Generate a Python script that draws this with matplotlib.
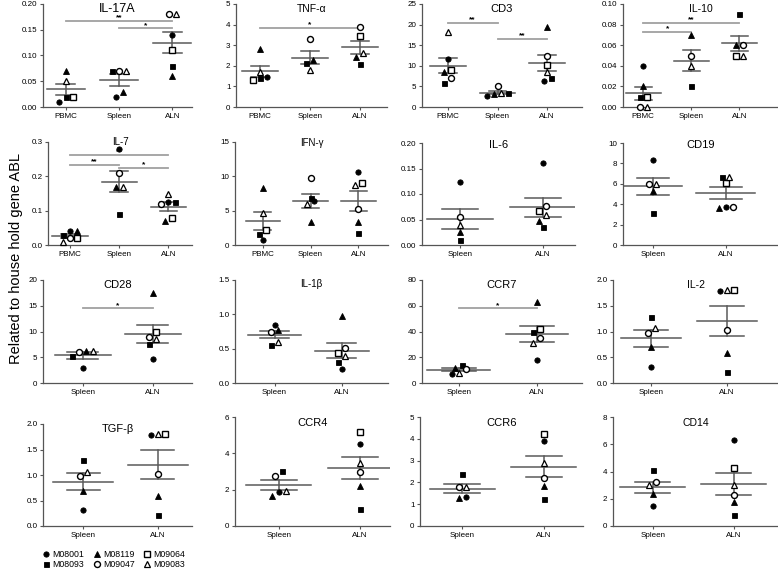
import numpy as np
import matplotlib
matplotlib.use('Agg')
import matplotlib.pyplot as plt
from matplotlib.lines import Line2D
from matplotlib.ticker import FormatStrFormatter, MultipleLocator

plt.rcParams['font.family'] = ['Liberation Sans', 'DejaVu Sans']

# ---------------- data ----------------
SUBJECTS = ['M08001', 'M08093', 'M08119', 'M09047', 'M09064', 'M09083']
# values in SUBJECTS order, None = missing
IL17A_PBMC = [0.01, 0.02, 0.07, None, 0.02, 0.05]
IL17A_SPLEEN = [0.02, 0.07, 0.03, 0.07, None, 0.07]
IL17A_ALN = [0.14, 0.08, 0.06, 0.18, 0.11, 0.18]

TNFA_PBMC = [1.45, 1.42, 2.8, None, 1.32, 1.7]
TNFA_SPLEEN = [None, 2.15, 2.3, 3.3, None, 1.8]
TNFA_ALN = [None, 2.1, 2.45, 3.87, 3.45, 2.6]

CD3_PBMC = [11.7, 5.8, 8.6, 7.0, 9.0, 18.3]
CD3_SPLEEN = [2.6, 3.5, 3.1, 5.0, None, 3.3]
CD3_ALN = [6.2, 7.0, 19.4, 12.4, 10.1, 8.6]

IL10_PBMC = [0.04, 0.01, 0.02, 0.0, 0.01, 0.0]
IL10_SPLEEN = [None, 0.02, 0.07, 0.05, None, 0.04]
IL10_ALN = [None, 0.09, 0.06, 0.06, 0.05, 0.05]

IL7_PBMC = [0.04, 0.03, 0.04, 0.02, 0.02, 0.01]
IL7_SPLEEN = [0.28, 0.09, 0.17, 0.21, None, 0.17]
IL7_ALN = [0.125, 0.125, 0.07, 0.12, 0.08, 0.15]

IFNG_PBMC = [0.7, 1.6, 8.3, None, 2.2, 4.6]
IFNG_SPLEEN = [6.4, 6.8, 3.4, 9.7, None, 5.9]
IFNG_ALN = [10.7, 1.7, 3.4, 5.3, 9.0, 8.7]

IL6_SPLEEN = [0.123, 0.01, 0.025, 0.055, None, 0.04]
IL6_ALN = [0.16, 0.035, 0.048, 0.076, 0.066, 0.058]

CD19_SPLEEN = [8.3, 3.1, 5.3, 6.0, None, 6.0]
CD19_ALN = [3.75, 6.7, 3.6, 3.75, 6.1, 6.7]

CD28_SPLEEN = [3.0, 5.2, 6.2, 6.1, None, 6.2]
CD28_ALN = [4.6, 7.6, 17.5, 8.9, 10.0, 8.5]

IL1B_SPLEEN = [0.84, 0.56, 0.77, 0.74, None, 0.6]
IL1B_ALN = [0.2, 0.31, 0.98, 0.51, 0.43, 0.39]

CCR7_SPLEEN = [7, 14, 12, 11, None, 8]
CCR7_ALN = [18, 39.5, 63, 35, 42, 31]

IL2_SPLEEN = [0.31, 1.29, 0.69, 0.98, None, 1.06]
IL2_ALN = [1.79, 0.22, 0.58, 1.02, 1.81, 1.8]

TGFB_SPLEEN = [0.31, 1.29, 0.69, 0.98, None, 1.06]
TGFB_ALN = [1.79, 0.22, 0.58, 1.02, 1.81, 1.8]

CCR4_SPLEEN = [1.85, 3.05, 1.65, 2.75, None, 1.95]
CCR4_ALN = [4.5, 0.95, 2.2, 2.95, 5.15, 3.45]

CCR6_SPLEEN = [1.33, 2.38, 1.27, 1.78, None, 1.8]
CCR6_ALN = [3.88, 1.22, 1.83, 2.2, 4.22, 2.9]

CD14_SPLEEN = [1.5, 4.1, 2.35, 3.2, None, 3.0]
CD14_ALN = [6.3, 0.8, 1.75, 2.3, 4.25, 3.0]

G3 = ['PBMC', 'Spleen', 'ALN']
G2 = ['Spleen', 'ALN']

# title, group labels, group data, ymax, ystep, tick format, significance bars (i, j, y, text)
PANELS = [
    ('IL-17A', G3, [IL17A_PBMC, IL17A_SPLEEN, IL17A_ALN], 0.20, 0.05, '%.2f',
     [(0, 2, 0.167, '**'), (1, 2, 0.153, '*')]),
    ('TNF-α', G3, [TNFA_PBMC, TNFA_SPLEEN, TNFA_ALN], 5, 1, '%d', [(0, 2, 3.85, '*')]),
    ('CD3', G3, [CD3_PBMC, CD3_SPLEEN, CD3_ALN], 25, 5, '%d',
     [(0, 1, 20.4, '**'), (1, 2, 16.6, '**')]),
    ('IL-10', G3, [IL10_PBMC, IL10_SPLEEN, IL10_ALN], 0.10, 0.02, '%.2f',
     [(0, 2, 0.082, '**'), (0, 1, 0.073, '*')]),
    ('IL-7', G3, [IL7_PBMC, IL7_SPLEEN, IL7_ALN], 0.3, 0.1, '%.1f',
     [(0, 2, 0.262, '**'), (0, 1, 0.233, '**'), (1, 2, 0.224, '*')]),
    ('IFN-γ', G3, [IFNG_PBMC, IFNG_SPLEEN, IFNG_ALN], 15, 5, '%d', []),
    ('IL-6', G2, [IL6_SPLEEN, IL6_ALN], 0.20, 0.05, '%.2f', []),
    ('CD19', G2, [CD19_SPLEEN, CD19_ALN], 10, 2, '%d', []),
    ('CD28', G2, [CD28_SPLEEN, CD28_ALN], 20, 5, '%d', [(0, 1, 14.5, '*')]),
    ('IL-1β', G2, [IL1B_SPLEEN, IL1B_ALN], 1.5, 0.5, '%.1f', []),
    ('CCR7', G2, [CCR7_SPLEEN, CCR7_ALN], 80, 20, '%d', [(0, 1, 58, '*')]),
    ('IL-2', G2, [IL2_SPLEEN, IL2_ALN], 2.0, 0.5, '%.1f', []),
    ('TGF-β', G2, [TGFB_SPLEEN, TGFB_ALN], 2.0, 0.5, '%.1f', []),
    ('CCR4', G2, [CCR4_SPLEEN, CCR4_ALN], 6, 2, '%d', []),
    ('CCR6', G2, [CCR6_SPLEEN, CCR6_ALN], 5, 1, '%d', []),
    ('CD14', G2, [CD14_SPLEEN, CD14_ALN], 8, 2, '%d', []),
]

# ---------------- layout (pixels) ----------------
W, H = 778, 572
# left, top, right, bottom (px), xlim, title size, title y (axes fraction)
LAYOUT = {
    'IL-17A': (43, 4, 192, 107, -0.43, 2.37, 9, 0.955),
    'TNF-α': (236, 4, 387, 107, -0.48, 2.55, 7.5, 0.955),
    'CD3': (422, 4, 582, 107, -0.52, 2.70, 8, 0.955),
    'IL-10': (623, 4, 778, 107, -0.42, 2.80, 7.5, 0.955),
    'IL-7': (48, 142, 192, 245, -0.45, 2.48, 7, 1.0),
    'IFN-γ': (235, 142, 388, 245, -0.58, 2.62, 7, 0.99),
    'IL-6': (422, 143, 575, 245, -0.46, 1.39, 8, 0.98),
    'CD19': (623, 143, 778, 245, -0.41, 1.72, 8, 0.98),
    'CD28': (43, 280, 192, 383, -0.57, 1.56, 8, 0.955),
    'IL-1β': (235, 280, 388, 383, -0.59, 1.69, 7, 0.96),
    'CCR7': (422, 280, 582, 383, -0.47, 1.58, 8, 0.955),
    'IL-2': (613, 280, 778, 383, -0.50, 1.67, 7.5, 0.955),
    'TGF-β': (43, 424, 192, 526, -0.54, 1.46, 8, 0.955),
    'CCR4': (235, 417, 390, 526, -0.54, 1.37, 8, 0.945),
    'CCR6': (420, 417, 583, 526, -0.52, 1.48, 8, 0.945),
    'CD14': (613, 417, 778, 526, -0.49, 1.55, 7.5, 0.945),
}

STYLE = {
    'M08001': dict(marker='o', mfc='black', ms=3.8, mew=0.6),
    'M08093': dict(marker='s', mfc='black', ms=3.6, mew=0.6),
    'M08119': dict(marker='^', mfc='black', ms=4.0, mew=0.6),
    'M09047': dict(marker='o', mfc='white', ms=4.3, mew=1.0),
    'M09064': dict(marker='s', mfc='white', ms=4.3, mew=1.0),
    'M09083': dict(marker='^', mfc='white', ms=4.7, mew=0.9),
}

LINE_C = '#5a5a5a'
SIG_C = '#a0a0a0'
AX_C = '#555555'

fig = plt.figure(figsize=(W / 100, H / 100), dpi=100)


def swarm_offsets(ax, center, vals, ytol=6.0, step=7.0):
    """Return x positions (data units) spreading points with close y values."""
    tr = ax.transData
    px_per_x = tr.transform((1, 0))[0] - tr.transform((0, 0))[0]
    ypix = [tr.transform((center, v))[1] for v in vals]
    order = np.argsort(ypix, kind='stable')
    xs = [center] * len(vals)
    cluster = []
    start = None

    def flush(cl):
        n = len(cl)
        for k, idx in enumerate(cl):
            xs[idx] = center + (k - (n - 1) / 2) * step / px_per_x

    for idx in order:
        if start is None or ypix[idx] - start > ytol:
            if cluster:
                flush(cluster)
            cluster = [idx]
            start = ypix[idx]
        else:
            cluster.append(idx)
    if cluster:
        flush(cluster)
    return xs


for title, groups, gdata, ymax, ystep, fmt, sigs in PANELS:
    l, t, r, b, x0, x1, tfs, ty = LAYOUT[title]
    ax = fig.add_axes([l / W, 1 - b / H, (r - l) / W, (b - t) / H])
    ax.set_xlim(x0, x1)
    ax.set_ylim(0, ymax)
    ng = len(groups)
    mean_hw = 0.36 if ng == 3 else 0.40
    cap_hw = 0.18 if ng == 3 else 0.22

    for gi, vals in enumerate(gdata):
        subj = [s for s, v in zip(SUBJECTS, vals) if v is not None]
        v = np.array([v for v in vals if v is not None], dtype=float)
        m = v.mean()
        sem = v.std(ddof=1) / np.sqrt(len(v))
        ax.plot([gi - mean_hw, gi + mean_hw], [m, m], color=LINE_C, lw=1.1, zorder=2)
        ax.plot([gi, gi], [m - sem, m + sem], color=LINE_C, lw=1.1, zorder=2)
        for yy in (m - sem, m + sem):
            ax.plot([gi - cap_hw, gi + cap_hw], [yy, yy], color=LINE_C, lw=1.1, zorder=2)
        xs = swarm_offsets(ax, gi, v)
        for s, xx, yy in zip(subj, xs, v):
            ax.plot([xx], [yy], linestyle='none', mec='black', zorder=3,
                    clip_on=False, **STYLE[s])

    for i, j, yb, txt in sigs:
        ax.plot([i, j], [yb, yb], color=SIG_C, lw=1.3, zorder=1)
        ax.text((i + j) / 2, yb + 0.028 * ymax, txt, ha='center', va='center',
                fontsize=6, fontweight='bold')

    ax.text(0.5 * (x0 + x1), ymax * ty, title, ha='center', va='center', fontsize=tfs)

    ax.set_xticks(range(ng))
    ax.set_xticklabels(groups)
    ax.yaxis.set_major_locator(MultipleLocator(ystep))
    ax.yaxis.set_major_formatter(FormatStrFormatter(fmt))
    for sp in ('top', 'right'):
        ax.spines[sp].set_visible(False)
    for sp in ('left', 'bottom'):
        ax.spines[sp].set_color(AX_C)
        ax.spines[sp].set_linewidth(0.9)
    ax.tick_params(axis='both', length=2.5, width=0.8, color=AX_C, labelsize=5.8, pad=1.5)

fig.text(16 / W, 1 - 258 / H, 'Related to house hold gene ABL', rotation=90,
         ha='center', va='center', fontsize=10.5)

handles = [Line2D([], [], linestyle='none', mec='black', **STYLE[s]) for s in SUBJECTS]
fig.legend(handles, SUBJECTS, ncol=3, loc='upper left', bbox_to_anchor=(42 / W, 1 - 549 / H),
           frameon=False, fontsize=6.3, handletextpad=0.3, columnspacing=1.0,
           handlelength=0.8, labelspacing=0.15, borderpad=0.1, borderaxespad=0)

fig.savefig('out.png', dpi=100)
